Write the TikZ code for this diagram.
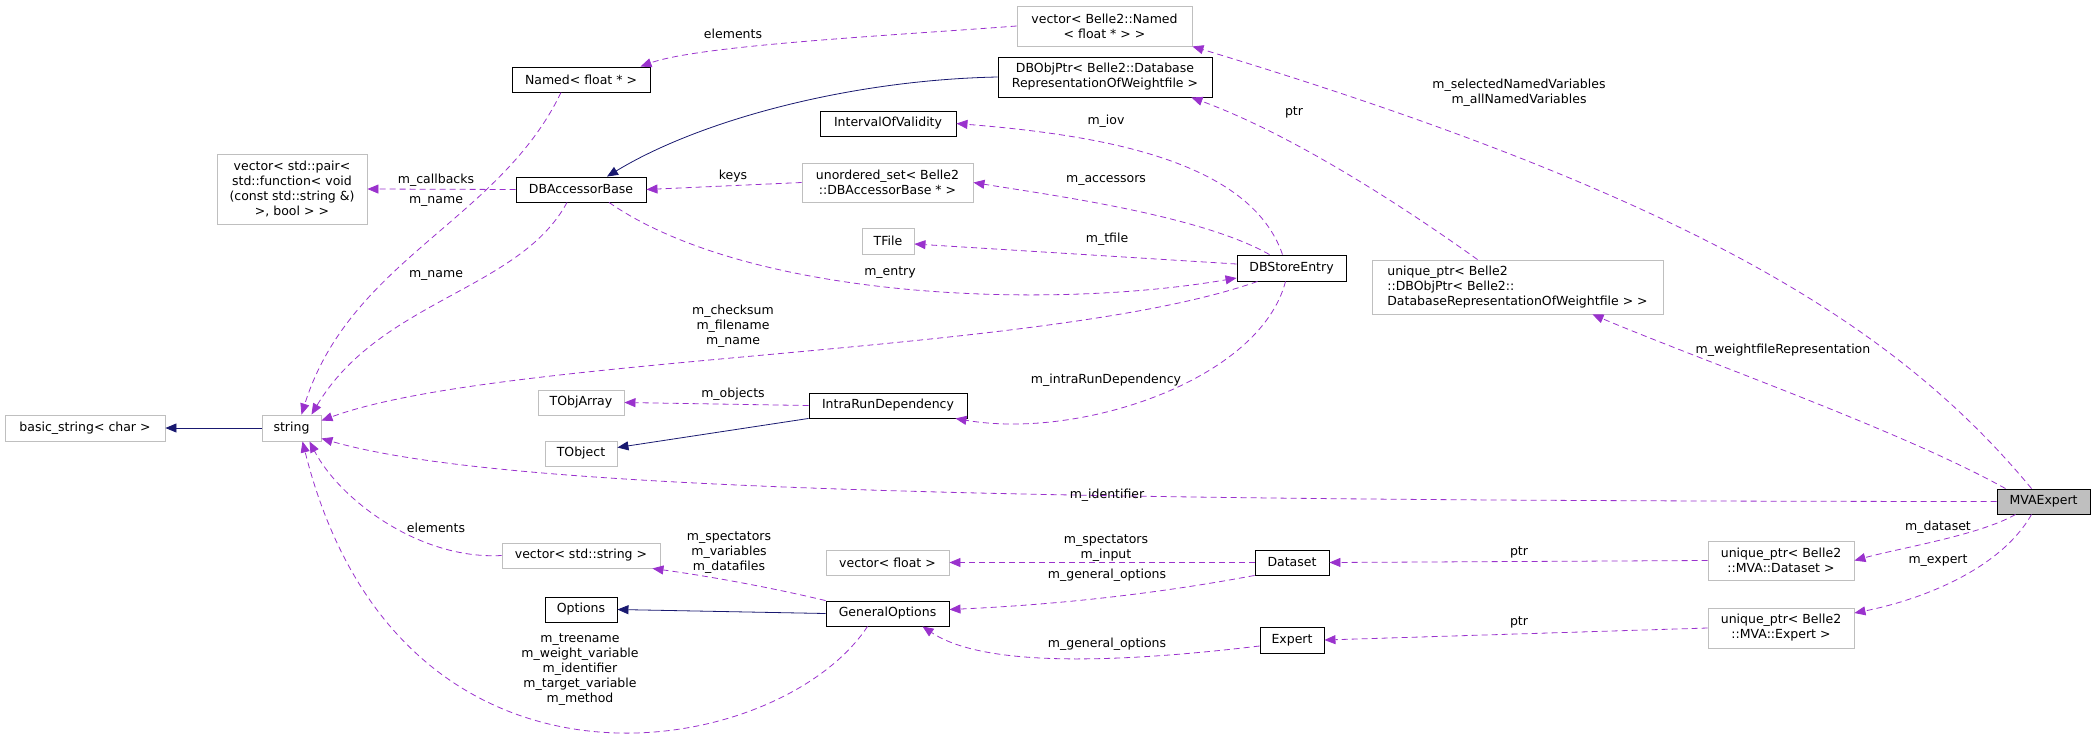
\documentclass[tikz,border=0pt]{standalone}
\usepackage{fontspec}
\setmainfont{DejaVu Sans}
\usetikzlibrary{arrows.meta,positioning}
\definecolor{usecol}{HTML}{9A32CD}
\definecolor{inhcol}{HTML}{191970}
\definecolor{boxgray}{HTML}{BFBFBF}
\begin{document}
\begin{tikzpicture}[
  x=1pt, y=-1pt,
  font=\fontsize{12.5}{15}\selectfont,
  basic/.style = {draw, line width=0.9pt, inner sep=0pt, align=center},
  klass/.style = {basic, draw=black},
  member/.style = {basic, draw=boxgray},
  focus/.style = {basic, draw=black, fill=boxgray},
  uses/.style = {draw=usecol, line width=0.8pt, dash pattern=on 6pt off 4pt,
    -{Triangle[length=11pt,width=9pt]}},
  inherit/.style = {draw=inhcol, line width=0.8pt,
    -{Triangle[length=11pt,width=9pt]}},
  lbl/.style = {inner sep=0pt, align=center},
]
  \useasboundingbox (0,0) rectangle (2096,734);
  % classes
  \node[member, minimum width=175pt, minimum height=40pt] (vecnamed) at (1104.5,26) {vector< Belle2::Named\\< float * > >};
  \node[klass, minimum width=138pt, minimum height=25pt] (named) at (581,79.5) {Named< float * >};
  \node[klass, minimum width=214pt, minimum height=40pt] (dbobj) at (1105,77) {DBObjPtr< Belle2::Database\\RepresentationOfWeightfile >};
  \node[klass, minimum width=136pt, minimum height=25pt] (iov) at (888,123.5) {IntervalOfValidity};
  \node[member, minimum width=171pt, minimum height=39pt] (unordset) at (887.5,182.5) {unordered\_set< Belle2\\::DBAccessorBase * >};
  \node[klass, minimum width=130pt, minimum height=25pt] (dbacc) at (581,189.5) {DBAccessorBase};
  \node[member, minimum width=150pt, minimum height=70pt] (vecpair) at (292,189) {vector< std::pair<\\ std::function< void\\(const std::string \&)\\>, bool > >};
  \node[member, minimum width=52pt, minimum height=26pt] (tfile) at (888,241) {TFile};
  \node[klass, minimum width=109pt, minimum height=26pt] (dbstore) at (1291.5,268) {DBStoreEntry};
  \node[member, minimum width=291pt, minimum height=54pt, align=left] (uniqdbobj) at (1517.5,287) {unique\_ptr< Belle2\\::DBObjPtr< Belle2::\\DatabaseRepresentationOfWeightfile > >};
  \node[member, minimum width=86pt, minimum height=25pt] (tobjarray) at (581,402.5) {TObjArray};
  \node[klass, minimum width=158pt, minimum height=25pt] (intrarun) at (888,405.5) {IntraRunDependency};
  \node[member, minimum width=72pt, minimum height=25pt] (tobject) at (581,453.5) {TObject};
  \node[member, minimum width=160pt, minimum height=26pt] (basicstr) at (85,428) {basic\_string< char >};
  \node[member, minimum width=59pt, minimum height=26pt] (string) at (291.5,428) {string};
  \node[focus, minimum width=93pt, minimum height=25pt] (mva) at (2043.5,501.5) {MVAExpert};
  \node[member, minimum width=158pt, minimum height=25pt] (vecstr) at (581,555.5) {vector< std::string >};
  \node[member, minimum width=123pt, minimum height=25pt] (vecfloat) at (887.5,562.5) {vector< float >};
  \node[klass, minimum width=74pt, minimum height=25pt] (dataset) at (1292,562.5) {Dataset};
  \node[member, minimum width=146pt, minimum height=39pt] (uniqdataset) at (1781,560.5) {unique\_ptr< Belle2\\::MVA::Dataset >};
  \node[klass, minimum width=123pt, minimum height=25pt] (genopt) at (887.5,613.5) {GeneralOptions};
  \node[klass, minimum width=72pt, minimum height=25pt] (options) at (581,609.5) {Options};
  \node[klass, minimum width=64pt, minimum height=26pt] (expert) at (1292,640) {Expert};
  \node[member, minimum width=146pt, minimum height=40pt] (uniqexpert) at (1781,628) {unique\_ptr< Belle2\\::MVA::Expert >};

  % inheritance
  \draw[inherit] (dbobj.west) .. controls (850,80) and (700,120) .. ([xshift=26pt]dbacc.north);
  \draw[inherit] (intrarun.south west) -- ([yshift=6pt]tobject.east);
  \draw[inherit] (string.west) -- (basicstr.east);
  \draw[inherit] (genopt.west) -- (options.east);

  % usage
  \draw[uses] (vecnamed.west) .. controls (900,35) and (700,45) .. ([xshift=-10pt]named.north east);
  \draw[uses] (dbacc.west) -- (vecpair.east);
  \draw[uses] ([xshift=-20pt]named.south) .. controls (500,220) and (350,260) .. ([xshift=10pt]string.north);
  \draw[uses] ([xshift=-14pt]dbacc.south) .. controls (520,290) and (380,300) .. ([xshift=20pt]string.north);
  \draw[uses] (unordset.west) -- (dbacc.east);
  \draw[uses] ([xshift=28pt]dbacc.south) .. controls (750,300) and (1050,310) .. ([yshift=-10pt]dbstore.west);
  \draw[uses] ([xshift=-9pt]dbstore.north) .. controls (1250,160) and (1100,135) .. (iov.east);
  \draw[uses] ([xshift=-22pt]dbstore.north) .. controls (1200,215) and (1050,195) .. (unordset.east);
  \draw[uses] ([yshift=4pt]dbstore.west) -- ([yshift=-3pt]tfile.east);
  \draw[uses] ([xshift=-34pt]dbstore.south) .. controls (1050,355) and (500,355) .. ([yshift=-6pt]string.north east);
  \draw[uses] ([xshift=-6pt]dbstore.south) .. controls (1260,380) and (1080,440) .. ([xshift=-12pt]intrarun.south east);
  \draw[uses] (intrarun.west) -- (tobjarray.east);
  \draw[uses] (mva.west) .. controls (1000,501) and (500,490) .. ([yshift=3pt]string.south east);
  \draw[uses] ([xshift=-12pt]mva.north) .. controls (1900,330) and (1700,200) .. (vecnamed.south east);
  \draw[uses] ([xshift=-38pt]mva.north) .. controls (1900,430) and (1700,360) .. ([xshift=75pt]uniqdbobj.south);
  \draw[uses] ([xshift=-40pt]uniqdbobj.north) .. controls (1380,190) and (1280,130) .. ([xshift=-21pt]dbobj.south east);
  \draw[uses] ([xshift=-28pt]mva.south) .. controls (1980,535) and (1900,548) .. (uniqdataset.east);
  \draw[uses] ([xshift=-12pt]mva.south) .. controls (2000,570) and (1920,600) .. ([yshift=15pt]uniqexpert.east);
  \draw[uses] (uniqdataset.west) -- (dataset.east);
  \draw[uses] (uniqexpert.west) -- (expert.east);
  \draw[uses] (dataset.west) -- (vecfloat.east);
  \draw[uses] (dataset.south west) .. controls (1150,595) and (1050,605) .. ([yshift=4pt]genopt.east);
  \draw[uses] ([yshift=-6pt]expert.west) .. controls (1100,665) and (980,665) .. ([xshift=35pt]genopt.south);
  \draw[uses] (genopt.north west) .. controls (760,585) and (700,575) .. ([xshift=-8pt]vecstr.south east);
  \draw[uses] ([xshift=-20pt]genopt.south) .. controls (780,760) and (400,830) .. ([xshift=11pt]string.south);
  \draw[uses] (vecstr.west) .. controls (420,560) and (340,500) .. ([xshift=18pt]string.south);

  % labels
  \node[lbl] (l_elem) at (733,34) {elements};
  \node[lbl] (l_callbacks) at (436,180) {m\_callbacks};
  \node[lbl] (l_name) at (436,201) {m\_name};
  \node[lbl] (l_name2) at (436,275) {m\_name};
  \node[lbl] (l_keys) at (733,176) {keys};
  \node[lbl] (l_ptr) at (1294,112) {ptr};
  \node[lbl] (l_iov) at (1106,121) {m\_iov};
  \node[lbl] (l_acc) at (1106,180) {m\_accessors};
  \node[lbl] (l_tfile) at (1107,239) {m\_tfile};
  \node[lbl] (l_entry) at (890,273) {m\_entry};
  \node[lbl] (l_checksum) at (733,326) {m\_checksum\\m\_filename\\m\_name};
  \node[lbl] (l_intra) at (1106,380) {m\_intraRunDependency};
  \node[lbl] (l_objects) at (733,394) {m\_objects};
  \node[lbl] (l_ident) at (1107,495) {m\_identifier};
  \node[lbl] (l_named) at (1519,93) {m\_selectedNamedVariables\\m\_allNamedVariables};
  \node[lbl] (l_weight) at (1783,350) {m\_weightfileRepresentation};
  \node[lbl] (l_dataset) at (1938,527) {m\_dataset};
  \node[lbl] (l_expert) at (1938,561) {m\_expert};
  \node[lbl] (l_ptrds) at (1519,552) {ptr};
  \node[lbl] (l_ptrex) at (1519,622) {ptr};
  \node[lbl] (l_input) at (1106,548) {m\_spectators\\m\_input};
  \node[lbl] (l_genopt) at (1107,575) {m\_general\_options};
  \node[lbl] (l_genopt2) at (1107,644) {m\_general\_options};
  \node[lbl] (l_vars) at (729,553) {m\_spectators\\m\_variables\\m\_datafiles};
  \node[lbl] (l_elem2) at (436,528) {elements};
  \node[lbl] (l_tree) at (580,670) {m\_treename\\m\_weight\_variable\\m\_identifier\\m\_target\_variable\\m\_method};
\end{tikzpicture}
\end{document}
